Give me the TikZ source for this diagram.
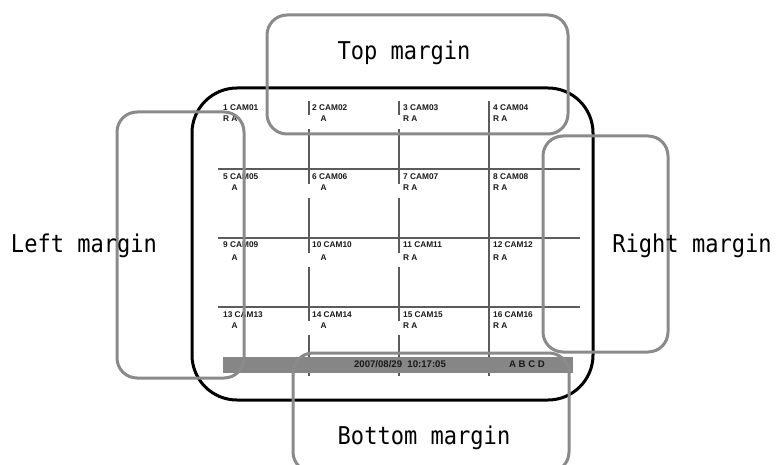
\documentclass[tikz,border=0pt]{standalone}
\usepackage{fontspec}
\setmainfont{Liberation Sans}
\newfontfamily\margefont[FakeStretch=0.9]{DejaVu Sans Mono}
\definecolor{gris}{HTML}{8A8A8A}
\definecolor{trait}{HTML}{5C5C5C}
\definecolor{barre}{HTML}{868686}

\begin{document}
\begin{tikzpicture}[x=1pt,y=-1pt]
\tikzstyle{ecran} = [draw=black,line width=3pt,rounded corners=45pt] %bord de l'écran
\tikzstyle{marge} = [draw=gris,line width=3pt,rounded corners=20pt]
\tikzstyle{gridline} = [draw=trait,line width=1.2pt]
\tikzstyle{cam} = [anchor=base west,inner sep=0pt,text=black!90,font=\bfseries\fontsize{8.3}{8.3}\selectfont]
\tikzstyle{stat} = [anchor=base,inner sep=0pt,text=black!90,font=\bfseries\fontsize{9.6}{9.6}\selectfont]
\tikzstyle{margetexte} = [anchor=base,inner sep=0pt,font=\margefont\fontsize{24.5}{24.5}\selectfont]

\useasboundingbox (0,0) rectangle (776,465);

%écran
\draw[ecran] (192,88) rectangle (593,400);

%grille
\foreach \y in {169,238,307} \draw[gridline] (218,\y)--(580,\y);
\draw[gridline] (489,101)--(489,376);
\foreach \x in {309,399}
  \draw[gridline] (\x,101)--(\x,115) (\x,129)--(\x,184) (\x,198)--(\x,253)
    (\x,267)--(\x,321) (\x,335)--(\x,376);

%barre d'état
\fill[barre] (223,357) rectangle (573,373);
\node[stat] (date) at (400,367.5) {2007/08/29\ \ 10:17:05};
\node[stat] (abcd) at (527,367.5) {A B C D};

%caméras
\foreach \ligne/\y/\yy in {0/111/122,1/180/191,2/247/260,3/317/328}
  \foreach \col/\x in {1/223,2/312,3/403,4/493}{
    \pgfmathtruncatemacro\n{4*\ligne+\col}
    \node[cam] (c\n) at (\x,\y) {\n{} CAM\ifnum\n<10 0\fi\n};
    \node[cam] (s\n) at (\x,\yy) {\ifnum\col>2 R A\else\ifnum\n=1 R A\else\phantom{R} A\fi\fi};
  }

%marges
\draw[marge] (267,15) rectangle (568,134);
\draw[marge] (117,112) rectangle (244,378);
\draw[marge] (543,136) rectangle (668,352);
\draw[marge] (293,353) rectangle (569,472);

\node[margetexte] (T) at (404,60) {Top margin};
\node[margetexte] (L) at (84,252) {Left margin};
\node[margetexte] (R) at (692,252) {Right margin};
\node[margetexte] (B) at (424,444) {Bottom margin};
\end{tikzpicture}
\end{document}
